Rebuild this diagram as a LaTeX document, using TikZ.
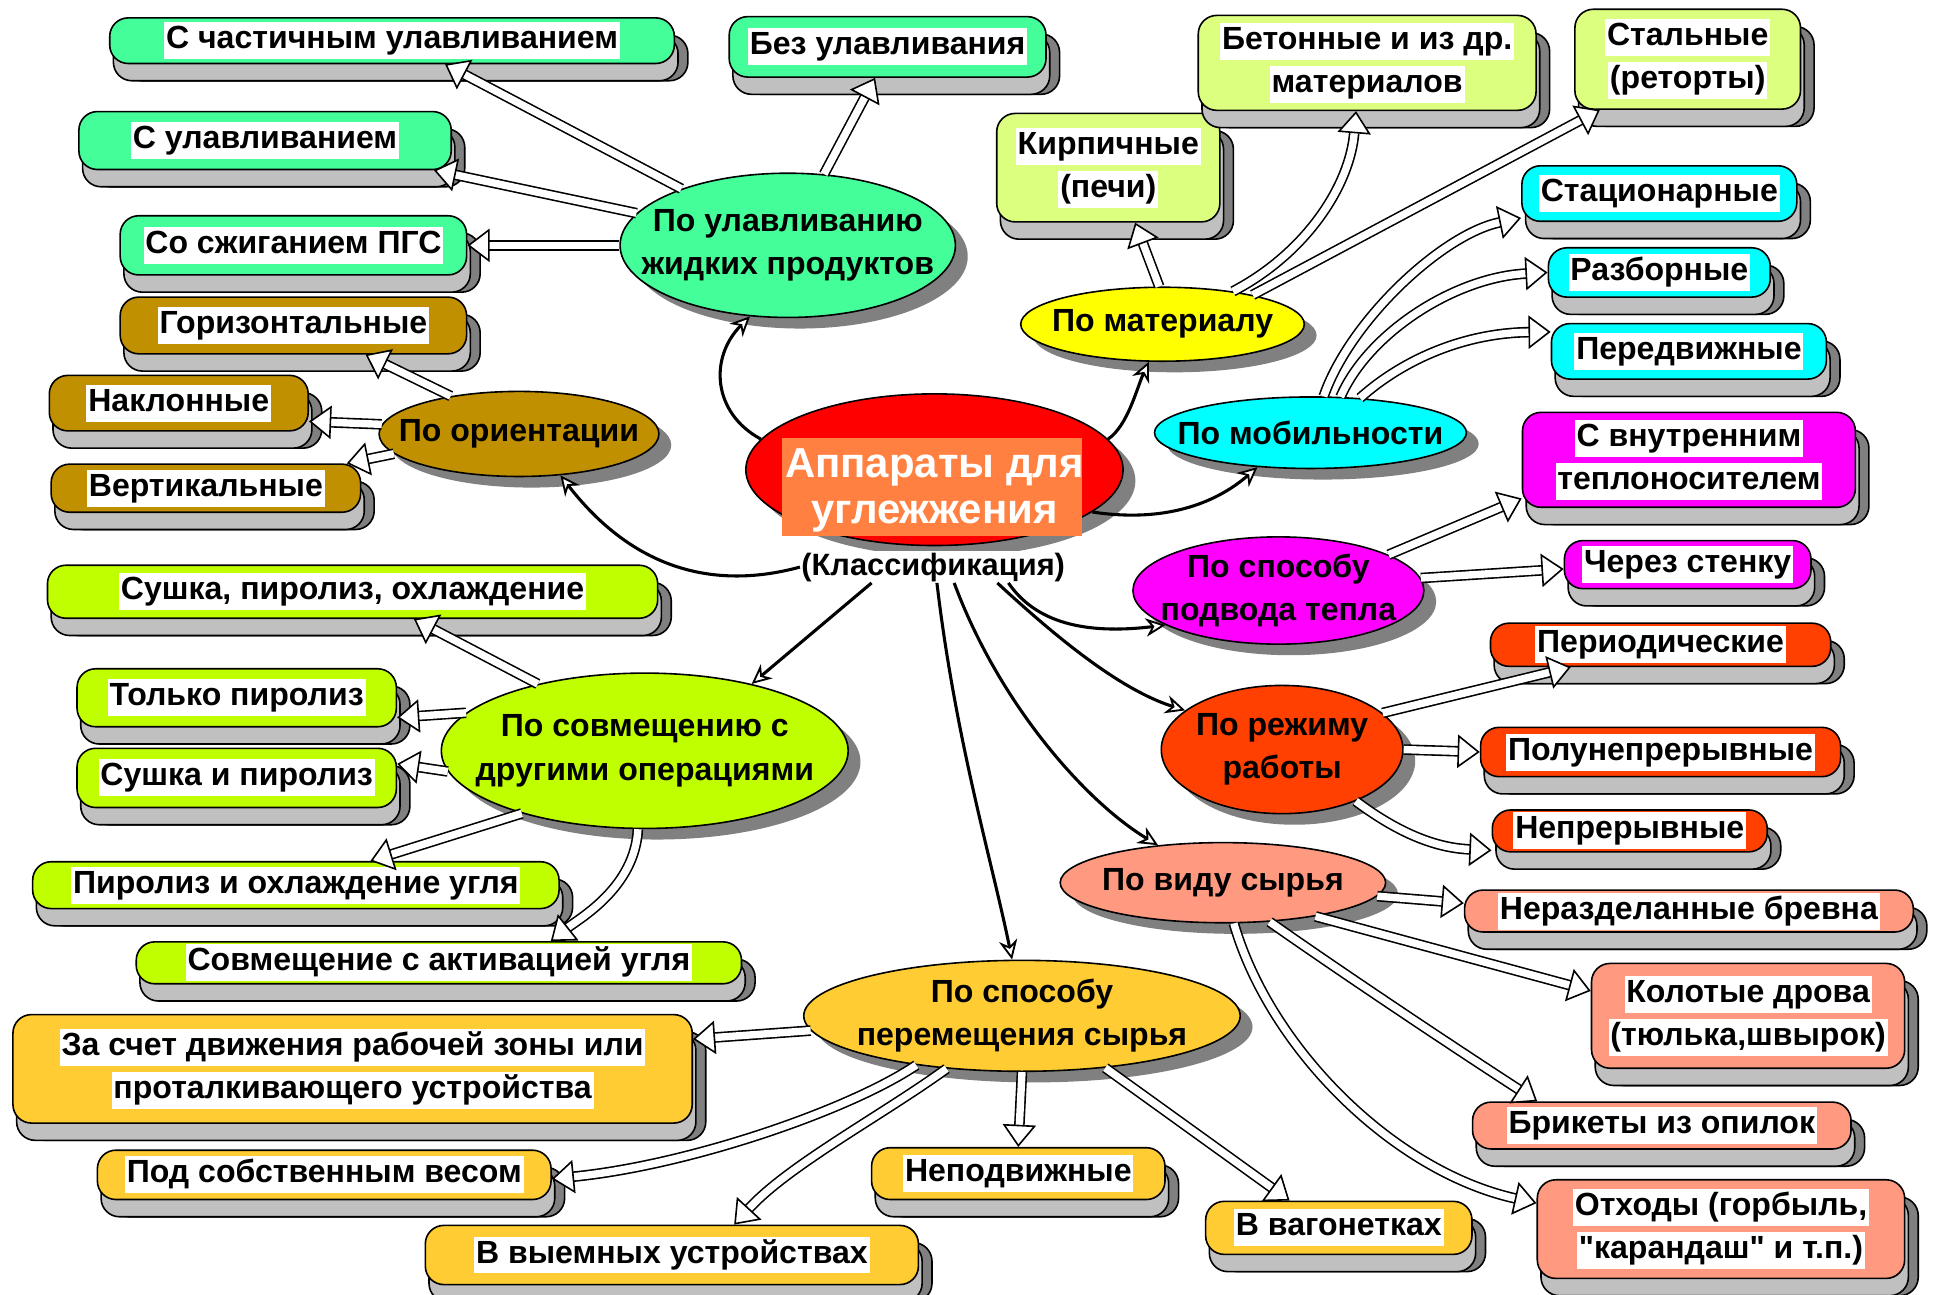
\documentclass[tikz,border=0pt]{standalone}
\usepackage{fontspec}
\setmainfont{Liberation Sans}[Ligatures=TeXOff]
\usetikzlibrary{shapes.geometric, arrows.meta, shadows, positioning}

\definecolor{mint}{RGB}{68,255,153}
\definecolor{ochre}{RGB}{192,144,0}
\definecolor{lime}{RGB}{192,255,0}
\definecolor{gold}{RGB}{255,204,51}
\definecolor{salmon}{RGB}{255,153,128}
\definecolor{flame}{RGB}{255,64,0}
\definecolor{pale}{RGB}{221,255,128}
\definecolor{aqua}{RGB}{0,255,255}
\definecolor{fuchsia}{RGB}{255,0,255}
\definecolor{lemon}{RGB}{255,255,0}
\definecolor{scarlet}{RGB}{255,0,0}
\definecolor{tbgcol}{RGB}{255,128,64}
\definecolor{shadeD}{RGB}{128,128,128}
\definecolor{shadeL}{RGB}{192,192,192}

\setlength{\fboxsep}{1.5pt}
\newcommand{\wb}[1]{\colorbox{white}{\rule[-7pt]{0pt}{27pt}#1}}

\begin{document}
\begin{tikzpicture}[x=1pt, y=-1pt,
    font=\fontsize{26}{35}\selectfont\bfseries,
    cat/.style={ellipse, draw, line width=1.3pt, inner sep=0pt,
        copy shadow={shadow xshift=10pt, shadow yshift=-9pt, fill=shadeD, draw=none}},
    leaf/.style={rectangle, rounded corners=15pt, draw, line width=1.3pt, inner sep=0pt, align=center,
        copy shadow={shadow xshift=11pt, shadow yshift=-14pt, fill=shadeD, draw=black, line width=1.3pt},
        copy shadow={shadow xshift=3pt, shadow yshift=-14pt, fill=shadeL, draw=black, line width=1.3pt}},
    conn/.style={line width=2.5pt, -{Stealth[open, fill=white, length=16pt, width=15pt, line width=1.5pt]}},
    hollow/.style={draw, line width=1.3pt, double=white, double distance=6pt,
        -{Triangle[open, fill=white, length=18pt, width=27pt, line width=1.3pt]}}]

    \path[fill=white, use as bounding box] (0,0) rectangle (1568,1050);

    % Centre
    \node [cat, fill=scarlet, minimum width=306pt, minimum height=123pt] (main) at (758,381) {};
    \node [fill=tbgcol, minimum width=243pt, minimum height=79pt, inner sep=0pt] (tbg) at (756,395) {};
    \node [text=white, align=center, font=\fontsize{34}{37}\selectfont\bfseries] (title) at (758,398) {Аппараты для\\углежжения};
    \node [fill=white, inner sep=1pt, font=\fontsize{25}{28}\selectfont\bfseries] (cls) at (757,460) {(Классификация)};

    % Classes
    \node [cat, fill=mint, minimum width=272pt, minimum height=117pt,
        label={[align=center]center:По улавливанию\\жидких продуктов}] (lov) at (639,199) {};
    \node [cat, fill=lemon, minimum width=230pt, minimum height=60pt,
        label={center:По материалу}] (mat) at (943,263) {};
    \node [cat, fill=aqua, minimum width=253pt, minimum height=58pt,
        label={center:По мобильности}] (mob) at (1063,351) {};
    \node [cat, fill=ochre, minimum width=227pt, minimum height=69pt,
        label={center:По ориентации}] (orient) at (421,352) {};
    \node [cat, fill=fuchsia, minimum width=236pt, minimum height=87pt,
        label={[align=center]center:По способу\\подвода тепла}] (heat) at (1037,479) {};
    \node [cat, fill=flame, minimum width=196pt, minimum height=104pt,
        label={[align=center]center:По режиму\\работы}] (mode) at (1040,608) {};
    \node [cat, fill=salmon, minimum width=264pt, minimum height=65pt,
        label={center:По виду сырья}] (raw) at (992,716) {};
    \node [cat, fill=gold, minimum width=354pt, minimum height=90pt,
        label={[align=center]center:По способу\\перемещения сырья}] (move) at (829,824) {};
    \node [cat, fill=lime, minimum width=330pt, minimum height=126pt,
        label={[align=center]center:По совмещению с\\другими операциями}] (combo) at (523,609) {};

    % Liquid products
    \node [leaf, fill=mint, minimum width=458pt, minimum height=37pt] (partial) at (318,33) {\wb{С частичным улавливанием}};
    \node [leaf, fill=mint, minimum width=257pt, minimum height=49pt] (nocatch) at (720,38) {\wb{Без улавливания}};
    \node [leaf, fill=mint, minimum width=302pt, minimum height=47pt] (catch) at (215,114) {\wb{С улавливанием}};
    \node [leaf, fill=mint, minimum width=281pt, minimum height=48pt] (burn) at (238,199) {\wb{Со сжиганием ПГС}};

    % Orientation
    \node [leaf, fill=ochre, minimum width=281pt, minimum height=46pt] (horiz) at (238,264) {\wb{Горизонтальные}};
    \node [leaf, fill=ochre, minimum width=210pt, minimum height=45pt] (incl) at (145,327) {\wb{Наклонные}};
    \node [leaf, fill=ochre, minimum width=251pt, minimum height=39pt] (vert) at (167,396) {\wb{Вертикальные}};

    % Combination
    \node [leaf, fill=lime, minimum width=495pt, minimum height=43pt] (dpc) at (286,480) {\wb{Сушка, пиролиз, охлаждение}};
    \node [leaf, fill=lime, minimum width=259pt, minimum height=47pt] (onlyp) at (192,566) {\wb{Только пиролиз}};
    \node [leaf, fill=lime, minimum width=259pt, minimum height=48pt] (dryp) at (192,631) {\wb{Сушка и пиролиз}};
    \node [leaf, fill=lime, minimum width=427pt, minimum height=38pt] (pyrocool) at (240,718) {\wb{Пиролиз и охлаждение угля}};
    \node [leaf, fill=lime, minimum width=491pt, minimum height=34pt] (activ) at (356,781) {\wb{Совмещение с активацией угля}};

    % Moving the raw material
    \node [leaf, fill=gold, minimum width=551pt, minimum height=88pt] (push) at (286,867) {\wb{За счет движения рабочей зоны или}\\\wb{проталкивающего устройства}};
    \node [leaf, fill=gold, minimum width=368pt, minimum height=40pt] (weight) at (263,953) {\wb{Под собственным весом}};
    \node [leaf, fill=gold, minimum width=400pt, minimum height=48pt] (remov) at (545,1018) {\wb{В выемных устройствах}};
    \node [leaf, fill=gold, minimum width=238pt, minimum height=42pt] (fixed) at (826,952) {\wb{Неподвижные}};
    \node [leaf, fill=gold, minimum width=216pt, minimum height=43pt] (wagon) at (1086,996) {\wb{В вагонетках}};

    % Raw material
    \node [leaf, fill=salmon, minimum width=364pt, minimum height=34pt] (logs) at (1370,739) {\wb{Неразделанные бревна}};
    \node [leaf, fill=salmon, minimum width=254pt, minimum height=85pt] (split) at (1418,824) {\wb{Колотые дрова}\\\wb{(тюлька,швырок)}};
    \node [leaf, fill=salmon, minimum width=307pt, minimum height=38pt] (brick) at (1348,913) {\wb{Брикеты из опилок}};
    \node [leaf, fill=salmon, minimum width=298pt, minimum height=80pt] (waste) at (1396,997) {\wb{Отходы (горбыль,}\\\wb{"карандаш" и т.п.)}};

    % Mode
    \node [leaf, fill=flame, minimum width=276pt, minimum height=35pt] (period) at (1347,523) {\wb{Периодические}};
    \node [leaf, fill=flame, minimum width=292pt, minimum height=40pt] (semi) at (1347,610) {\wb{Полунепрерывные}};
    \node [leaf, fill=flame, minimum width=223pt, minimum height=34pt] (cont) at (1322,674) {\wb{Непрерывные}};

    % Heat supply
    \node [leaf, fill=fuchsia, minimum width=270pt, minimum height=77pt] (internal) at (1370,373) {\wb{С внутренним}\\\wb{теплоносителем}};
    \node [leaf, fill=fuchsia, minimum width=200pt, minimum height=39pt] (wall) at (1369,458) {\wb{Через стенку}};

    % Mobility
    \node [leaf, fill=aqua, minimum width=223pt, minimum height=45pt] (stat) at (1346,157) {\wb{Стационарные}};
    \node [leaf, fill=aqua, minimum width=180pt, minimum height=40pt] (disas) at (1346,221) {\wb{Разборные}};
    \node [leaf, fill=aqua, minimum width=223pt, minimum height=45pt] (mobile) at (1370,285) {\wb{Передвижные}};

    % Material
    \node [leaf, fill=pale, minimum width=181pt, minimum height=88pt] (brickoven) at (899,136) {\wb{Кирпичные}\\\wb{(печи)}};
    \node [leaf, fill=pale, minimum width=274pt, minimum height=77pt] (concrete) at (1109,51) {\wb{Бетонные и из др.}\\\wb{материалов}};
    \node [leaf, fill=pale, minimum width=183pt, minimum height=81pt] (steel) at (1369,48) {\wb{Стальные}\\\wb{(реторты)}};

    % Arrows from the centre
    \draw[conn] (main.170) .. controls (578,335) and (575,290) .. (lov.242);
    \draw[conn] (main.10) .. controls (915,345) and (922,315) .. (mat.250);
    \draw[conn] (main.-15) .. controls (950,425) and (990,405) .. (mob.213);
    \draw[conn] (cls.west) .. controls (590,476) and (520,470) .. (orient.-45);
    \draw[conn] ([xshift=61pt]cls.south) .. controls (840,505) and (880,515) .. (heat.197);
    \draw[conn] ([xshift=52pt]cls.south) .. controls (860,520) and (910,560) .. (mode.158);
    \draw[conn] ([xshift=17pt]cls.south) .. controls (810,570) and (880,650) .. (raw.150);
    \draw[conn] ([xshift=3pt]cls.south) .. controls (775,600) and (805,700) .. (move.100);
    \draw[conn] ([xshift=-50pt]cls.south) -- (combo.32);

    % Arrows to the leaves
    \draw[hollow] (lov.152) -- (partial.-24);
    \draw[hollow] (lov.63) -- (nocatch.-112);
    \draw[hollow] (lov.168) -- (catch.-10.5);
    \draw[hollow] (lov.180) -- (burn.east);

    \draw[hollow] (orient.151) -- (horiz.-22);
    \draw[hollow] (orient.176) -- (incl.-8);
    \draw[hollow] (orient.189) -- (vert.10);

    \draw[hollow] (mat.95) -- (brickoven.-64);
    \draw[hollow] (mat.25) .. controls (1060,205) and (1095,150) .. (concrete.-103);
    \draw[hollow] (mat.18) -- (steel.210);

    \draw[hollow] (mob.70) .. controls (1095,260) and (1170,190) .. (stat.190);
    \draw[hollow] (mob.50) .. controls (1110,270) and (1180,225) .. (disas.west);
    \draw[hollow] (mob.35) .. controls (1140,290) and (1190,270) .. (mobile.172);

    \draw[hollow] (heat.18) -- (internal.193);
    \draw[hollow] (heat.5) -- (wall.182);

    \draw[hollow] (mode.20) -- (period.194);
    \draw[hollow] (mode.east) -- (semi.west);
    \draw[hollow] (mode.-35) .. controls (1140,680) and (1170,688) .. (cont.188);

    \draw[hollow] (raw.-5) -- (logs.178);
    \draw[hollow] (raw.-20) -- (split.171);
    \draw[hollow] (raw.-40) .. controls (1090,790) and (1180,850) .. (brick.169);
    \draw[hollow] (raw.-75) .. controls (1030,850) and (1130,950) .. (waste.172);

    \draw[hollow] (move.184) -- (push.5);
    \draw[hollow] (move.205) .. controls (690,900) and (560,945) .. (weight.-1);
    \draw[hollow] (move.215) .. controls (715,905) and (640,945) .. (remov.26);
    \draw[hollow] (move.south) -- (fixed.north);
    \draw[hollow] (move.-32) -- (wagon.151);

    \draw[hollow] (combo.148) -- (dpc.-24);
    \draw[hollow] (combo.168) -- (onlyp.-7);
    \draw[hollow] (combo.186) -- (dryp.5);
    \draw[hollow] (combo.207) -- (pyrocool.18);
    \draw[hollow] (combo.-95) .. controls (515,720) and (470,745) .. (activ.11);
\end{tikzpicture}
\end{document}
